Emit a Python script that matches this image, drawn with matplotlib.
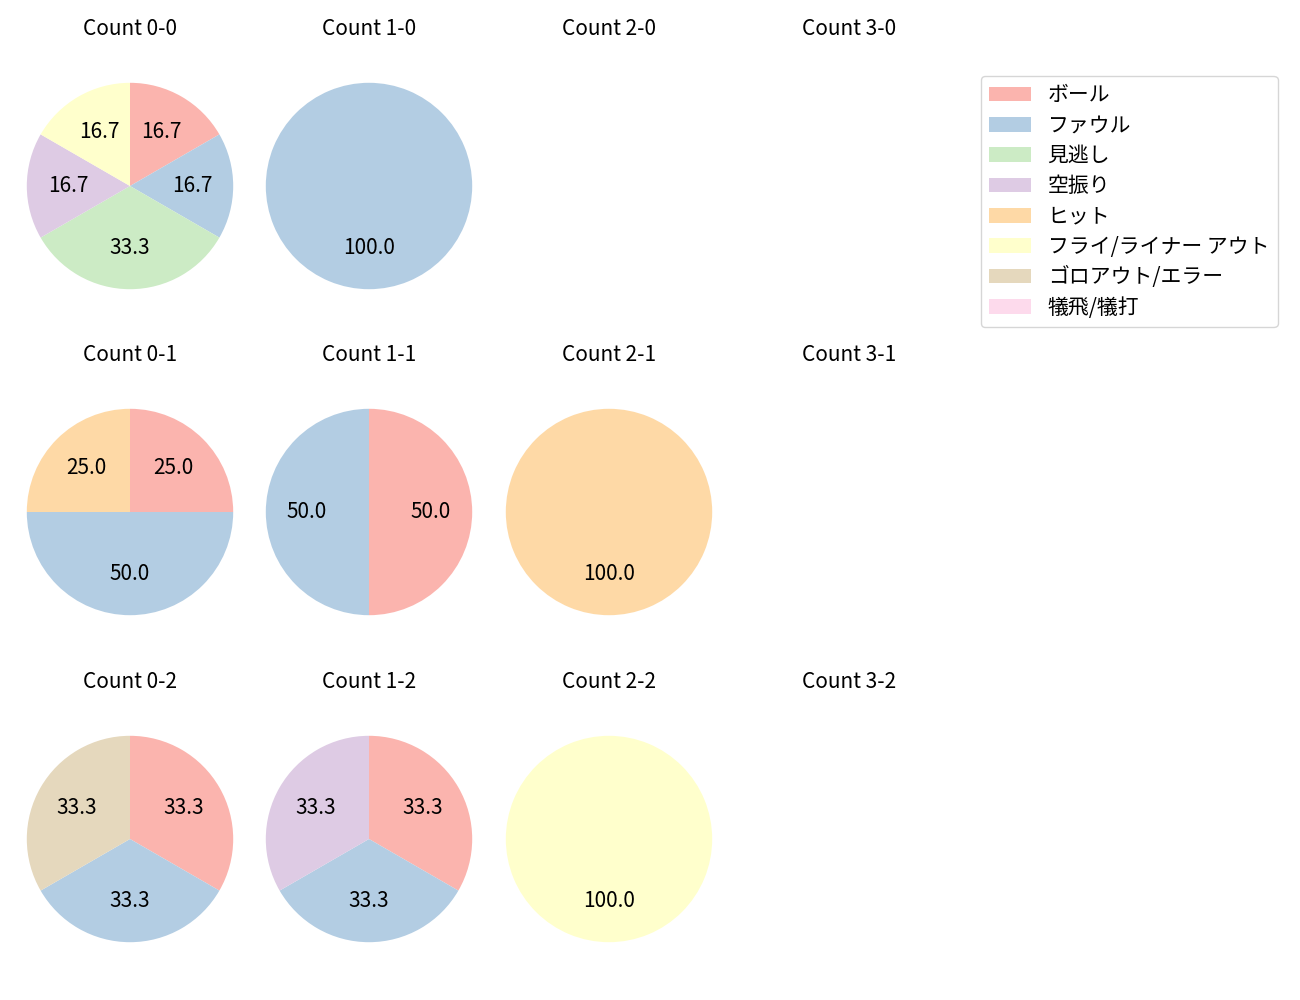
import numpy as np
import matplotlib
matplotlib.use('Agg')
import matplotlib.pyplot as plt
from matplotlib.patches import Patch

plt.rcParams['font.family'] = ['Noto Sans CJK JP', 'DejaVu Sans']
plt.rcParams['font.size'] = 15

# categorias y colores (Pastel1)
categorias = ['ボール', 'ファウル', '見逃し', '空振り', 'ヒット',
              'フライ/ライナー アウト', 'ゴロアウト/エラー', '犠飛/犠打']
colores = plt.cm.Pastel1.colors[:8]

# conteos por cuenta (bolas-strikes), en el orden de categorias
datos = {
    '0-0': [1, 1, 2, 1, 0, 1, 0, 0],
    '1-0': [0, 1, 0, 0, 0, 0, 0, 0],
    '2-0': [],
    '3-0': [],
    '0-1': [1, 2, 0, 0, 1, 0, 0, 0],
    '1-1': [1, 1, 0, 0, 0, 0, 0, 0],
    '2-1': [0, 0, 0, 0, 1, 0, 0, 0],
    '3-1': [],
    '0-2': [1, 1, 0, 0, 0, 0, 1, 0],
    '1-2': [1, 1, 0, 1, 0, 0, 0, 0],
    '2-2': [0, 0, 0, 0, 0, 1, 0, 0],
    '3-2': [],
}

fig = plt.figure(figsize=(13, 10), dpi=100)
W, H = 1300., 1000.
centros_x = [130, 369, 609, 849]
centros_y = [186, 512, 839]
tam = 258.

for fila, strikes in enumerate([0, 1, 2]):
    for col, bolas in enumerate([0, 1, 2, 3]):
        clave = '%d-%d' % (bolas, strikes)
        cx, cy = centros_x[col], centros_y[fila]
        ax = fig.add_axes([(cx - tam/2)/W, 1 - (cy + tam/2)/H, tam/W, tam/H])
        valores = datos[clave]
        if len(valores) > 0 and sum(valores) > 0:
            idx = [i for i, v in enumerate(valores) if v > 0]
            ax.pie([valores[i] for i in idx], colors=[colores[i] for i in idx],
                   startangle=90, counterclock=False, autopct='%.1f')
        else:
            ax.set_xlim(-1.25, 1.25)
            ax.set_ylim(-1.25, 1.25)
            ax.axis('off')
        ax.set_title('Count ' + clave, fontsize=15, pad=15.5)

handles = [Patch(facecolor=c, label=l) for c, l in zip(colores, categorias)]
fig.legend(handles=handles, loc='upper left', bbox_to_anchor=(981/W, 1 - 76/H),
           borderaxespad=0, fontsize=15, labelspacing=0.4)

fig.savefig('out.png', dpi=100)
